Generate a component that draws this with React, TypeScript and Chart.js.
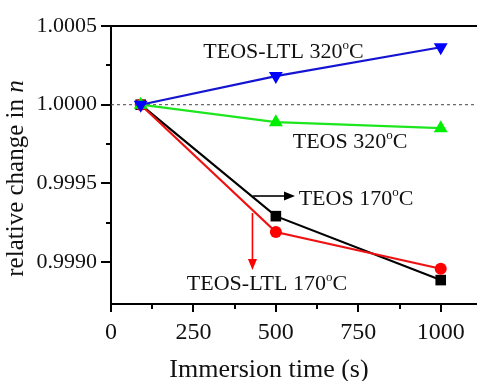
import React, { useEffect, useRef } from 'react';
import { Chart, registerables } from 'chart.js';

Chart.register(...registerables);

// ---- data ----
const times = [90, 500, 1000];
const teosLtl320 = [1.0, 1.000182, 1.000365];
const teos320 = [1.0, 0.999889, 0.999851];
const teos170 = [1.0, 0.999292, 0.998886];
const teosLtl170 = [1.0, 0.999191, 0.998958];

const xMajorTicks = [0, 250, 500, 750, 1000];
const xMinorTicks = [125, 375, 625, 875];
const yMajorTicks = [0.999, 0.9995, 1.0, 1.0005];
const yMinorTicks = [0.99925, 0.99975, 1.00025];
const xRange = [0, 1110];
const yRange = [0.998734, 1.0005];
const referenceLevel = 1.0;

const xTitle = 'Immersion time (s)';
const yTitle = 'relative change in ';
const yTitleItalic = 'n';

// annotation labels: text before the degree sign, anchor in data coordinates (centre x, baseline y)
const labelTexts = ['TEOS-LTL 320', 'TEOS 320', 'TEOS 170', 'TEOS-LTL 170'];
const labelX = [523, 725, 743, 473];
const labelY = [1.000297, 0.999723, 0.999363, 0.998823];
const degreeSuffix = ['o', 'C'];

// arrows in data coordinates
const arrowFromX = [431, 429];
const arrowFromY = [0.99942, 0.999312];
const arrowToX = [558, 429];
const arrowToY = [0.99942, 0.99895];
const arrowColors = ['#000000', '#ff0000'];

const FONT = "'Liberation Serif', 'Times New Roman', serif";
Chart.defaults.font.family = FONT;

const decorPlugin = {
  id: 'decor',
  beforeDatasetsDraw(chart: any) {
    const { ctx, chartArea, scales } = chart;
    const y = scales.y;
    ctx.save();
    ctx.strokeStyle = '#444';
    ctx.lineWidth = 1;
    ctx.setLineDash([3, 3]);
    const yp = y.getPixelForValue(referenceLevel);
    ctx.beginPath();
    ctx.moveTo(chartArea.left, yp);
    ctx.lineTo(chartArea.right, yp);
    ctx.stroke();
    ctx.restore();
  },
  afterDraw(chart: any) {
    const { ctx, chartArea, scales } = chart;
    const x = scales.x;
    const y = scales.y;
    ctx.save();
    // top frame line
    ctx.strokeStyle = '#000';
    ctx.lineWidth = 2;
    ctx.beginPath();
    ctx.moveTo(chartArea.left, chartArea.top);
    ctx.lineTo(chartArea.right, chartArea.top);
    ctx.stroke();
    // minor ticks
    ctx.lineWidth = 2;
    xMinorTicks.forEach((v) => {
      const px = Math.round(x.getPixelForValue(v));
      ctx.beginPath();
      ctx.moveTo(px, chartArea.bottom);
      ctx.lineTo(px, chartArea.bottom + 5);
      ctx.stroke();
    });
    yMinorTicks.forEach((v) => {
      const py = Math.round(y.getPixelForValue(v));
      ctx.beginPath();
      ctx.moveTo(chartArea.left - 5, py);
      ctx.lineTo(chartArea.left, py);
      ctx.stroke();
    });

    // annotation labels
    const mainFont = `22px ${FONT}`;
    const supFont = `13px ${FONT}`;
    labelTexts.forEach((t, i) => {
      ctx.font = mainFont;
      const w1 = ctx.measureText(t).width;
      const w3 = ctx.measureText(degreeSuffix[1]).width;
      ctx.font = supFont;
      const w2 = ctx.measureText(degreeSuffix[0]).width;
      const total = w1 + w2 + w3;
      const cx = x.getPixelForValue(labelX[i]);
      const by = y.getPixelForValue(labelY[i]);
      let sx = cx - total / 2;
      ctx.fillStyle = '#111';
      ctx.textBaseline = 'alphabetic';
      ctx.textAlign = 'left';
      ctx.font = mainFont;
      ctx.fillText(t, sx, by);
      sx += w1;
      ctx.font = supFont;
      ctx.fillText(degreeSuffix[0], sx, by - 9);
      sx += w2;
      ctx.font = mainFont;
      ctx.fillText(degreeSuffix[1], sx, by);
    });

    // arrows
    arrowFromX.forEach((_, i) => {
      const x1 = x.getPixelForValue(arrowFromX[i]);
      const y1 = y.getPixelForValue(arrowFromY[i]);
      const x2 = x.getPixelForValue(arrowToX[i]);
      const y2 = y.getPixelForValue(arrowToY[i]);
      const ang = Math.atan2(y2 - y1, x2 - x1);
      const head = 11;
      const half = 4.5;
      ctx.strokeStyle = arrowColors[i];
      ctx.fillStyle = arrowColors[i];
      ctx.lineWidth = 1.6;
      ctx.beginPath();
      ctx.moveTo(x1, y1);
      ctx.lineTo(x2 - Math.cos(ang) * head, y2 - Math.sin(ang) * head);
      ctx.stroke();
      ctx.beginPath();
      ctx.moveTo(x2, y2);
      const bx = x2 - Math.cos(ang) * head;
      const by = y2 - Math.sin(ang) * head;
      ctx.lineTo(bx + Math.sin(ang) * half, by - Math.cos(ang) * half);
      ctx.lineTo(bx - Math.sin(ang) * half, by + Math.cos(ang) * half);
      ctx.closePath();
      ctx.fill();
    });

    // axis titles
    ctx.fillStyle = '#111';
    ctx.font = `26px ${FONT}`;
    ctx.textAlign = 'center';
    ctx.textBaseline = 'alphabetic';
    ctx.fillText(xTitle, 269, 377);

    ctx.translate(23, 178.5);
    ctx.rotate(-Math.PI / 2);
    ctx.font = `25px ${FONT}`;
    const wa = ctx.measureText(yTitle).width;
    ctx.font = `italic 25px ${FONT}`;
    const wb = ctx.measureText(yTitleItalic).width;
    ctx.textAlign = 'left';
    ctx.font = `25px ${FONT}`;
    ctx.fillText(yTitle, -(wa + wb) / 2, 0);
    ctx.font = `italic 25px ${FONT}`;
    ctx.fillText(yTitleItalic, -(wa + wb) / 2 + wa, 0);
    ctx.restore();
  },
};

export default function App() {
  const ref = useRef<HTMLCanvasElement | null>(null);
  useEffect(() => {
    if (!ref.current) return;
    const mk = (data: number[]) => times.map((t, i) => ({ x: t, y: data[i] }));
    const chart = new Chart(ref.current, {
      type: 'line',
      data: {
        datasets: [
          {
            label: 'TEOS-LTL 320°C',
            data: mk(teosLtl320),
            borderColor: '#1414d2',
            backgroundColor: '#0000ff',
            pointStyle: 'triangle',
            rotation: 180,
            pointRadius: 8,
            pointBorderWidth: 0,
            borderWidth: 2.2,
          },
          {
            label: 'TEOS 320°C',
            data: mk(teos320),
            borderColor: '#1ee61e',
            backgroundColor: '#00ee00',
            pointStyle: 'triangle',
            pointRadius: 8,
            pointBorderWidth: 0,
            borderWidth: 2.2,
          },
          {
            label: 'TEOS-LTL 170°C',
            data: mk(teosLtl170),
            borderColor: '#ee1111',
            backgroundColor: '#ff0000',
            pointStyle: 'circle',
            pointRadius: 6,
            pointBorderWidth: 0,
            borderWidth: 2.2,
          },
          {
            label: 'TEOS 170°C',
            data: mk(teos170),
            borderColor: '#000000',
            backgroundColor: '#000000',
            pointStyle: 'rect',
            pointRadius: 7.5,
            pointBorderWidth: 0,
            borderWidth: 2.2,
          },
        ],
      },
      options: {
        animation: false,
        responsive: false,
        devicePixelRatio: 1,
        layout: { autoPadding: false, padding: { left: 0, right: 0, top: 26, bottom: 0 } },
        plugins: { legend: { display: false }, tooltip: { enabled: false } },
        elements: { line: { tension: 0 } },
        scales: {
          x: {
            type: 'linear',
            min: xRange[0],
            max: xRange[1],
            afterBuildTicks: (s: any) => {
              s.ticks = xMajorTicks.map((v) => ({ value: v }));
            },
            afterFit: (s: any) => {
              s.height = 77;
            },
            grid: { display: true, drawOnChartArea: false, drawTicks: true, tickLength: 8, color: '#000', lineWidth: 2 },
            border: { display: true, color: '#000', width: 2 },
            ticks: {
              color: '#111',
              padding: 6,
              font: { family: FONT, size: 24 },
              maxRotation: 0,
              callback: (v: any) => String(v),
            },
          },
          y: {
            type: 'linear',
            min: yRange[0],
            max: yRange[1],
            afterBuildTicks: (s: any) => {
              s.ticks = yMajorTicks.map((v) => ({ value: v }));
            },
            afterFit: (s: any) => {
              s.width = 111;
            },
            grid: { display: true, drawOnChartArea: false, drawTicks: true, tickLength: 10, color: '#000', lineWidth: 2 },
            border: { display: true, color: '#000', width: 2 },
            ticks: {
              color: '#111',
              padding: 4,
              font: { family: FONT, size: 22 },
              callback: (v: any) => Number(v).toFixed(4),
            },
          },
        },
      },
      plugins: [decorPlugin],
    } as any);
    return () => chart.destroy();
  }, []);
  return (
    <canvas
      ref={ref}
      width={477}
      height={381}
      style={{ position: 'fixed', left: 0, top: 0, width: 477, height: 381, display: 'block', background: '#fff' }}
    />
  );
}
